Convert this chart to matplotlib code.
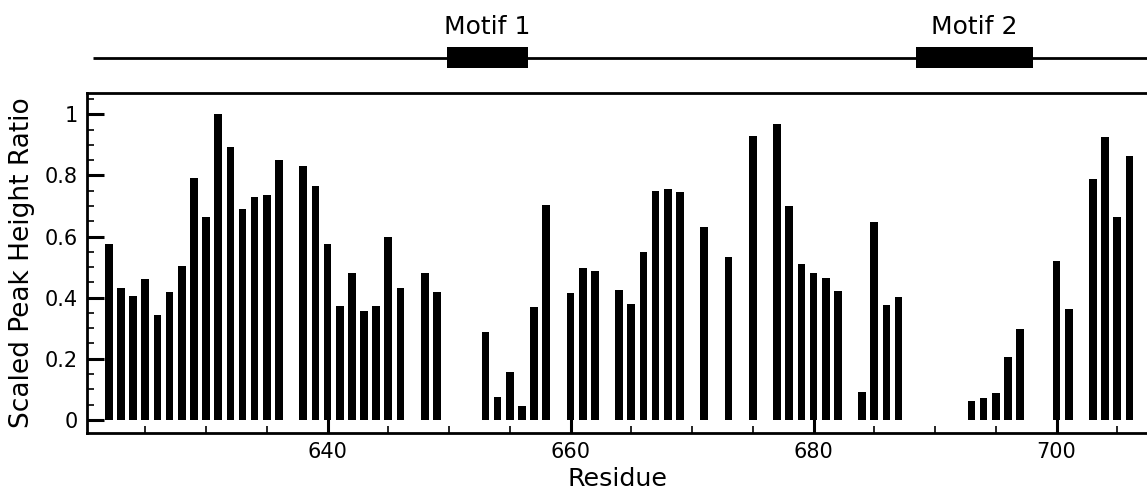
import matplotlib
matplotlib.use("Agg")
import matplotlib.pyplot as plt
from matplotlib.ticker import MultipleLocator
from matplotlib.patches import Rectangle

# residues with a measured peak (gaps are missing residues)
residues = [622, 623, 624, 625, 626, 627, 628, 629, 630, 631, 632, 633, 634, 635, 636,
            638, 639, 640, 641, 642, 643, 644, 645, 646, 648, 649,
            653, 654, 655, 656, 657, 658, 660, 661, 662, 664, 665, 666, 667, 668, 669,
            671, 673, 675, 677, 678, 679, 680, 681, 682, 684, 685, 686, 687,
            693, 694, 695, 696, 697, 700, 701, 703, 704, 705, 706]
ratios = [0.575, 0.432, 0.405, 0.461, 0.342, 0.419, 0.505, 0.793, 0.664, 1.0, 0.893, 0.691, 0.731, 0.737, 0.850,
          0.830, 0.767, 0.575, 0.373, 0.482, 0.358, 0.373, 0.600, 0.432, 0.480, 0.419,
          0.288, 0.076, 0.156, 0.046, 0.370, 0.703, 0.415, 0.496, 0.487, 0.425, 0.378, 0.550, 0.749, 0.755, 0.746,
          0.630, 0.533, 0.929, 0.969, 0.699, 0.510, 0.481, 0.463, 0.421, 0.092, 0.648, 0.376, 0.402,
          0.063, 0.073, 0.088, 0.206, 0.296, 0.520, 0.364, 0.788, 0.927, 0.665, 0.864]

# motif boxes on the track above (start, end residue)
motif_names = ["Motif 1", "Motif 2"]
motif_spans = [(649.8, 656.5), (688.4, 698.1)]

W, H = 1147, 491
fig = plt.figure(figsize=(W / 100, H / 100), dpi=100)

x0, x1 = 620.2, 707.6
left_px, right_px = 87, 87 + (x1 - x0) * 12.15
ax = fig.add_axes([left_px / W, (H - 432.7) / H, (right_px - left_px) / W, (432.7 - 93) / H])

ax.bar(residues, ratios, width=0.63, color="black", linewidth=0)
ax.set_xlim(x0, x1)
ax.set_ylim(-0.042, 1.07)

for s in ax.spines.values():
    s.set_linewidth(2)

ax.xaxis.set_major_locator(MultipleLocator(20))
ax.xaxis.set_minor_locator(MultipleLocator(5))
ax.yaxis.set_major_locator(MultipleLocator(0.2))
ax.yaxis.set_minor_locator(MultipleLocator(0.05))
ax.yaxis.set_major_formatter(plt.FuncFormatter(lambda v, p: "%g" % round(v, 2)))
ax.tick_params(which="major", direction="in", length=12, width=2.2, labelsize=15, pad=6.5)
ax.tick_params(which="minor", direction="in", length=5, width=1.2)
ax.tick_params(axis="y", which="both", right=False)
ax.tick_params(axis="x", which="both", top=False)

ax.set_xlabel("Residue", fontsize=18.3, labelpad=4)
ax.set_ylabel("Scaled Peak Height Ratio", fontsize=19, labelpad=7)

# domain track above the main axes
tr = fig.add_axes([left_px / W, (H - 80) / H, (right_px - left_px) / W, 65 / H])
tr.set_xlim(x0, x1)
tr.set_ylim(0, 65)
tr.axis("off")
tr.plot([620.7, x1], [22, 22], color="black", lw=2, solid_capstyle="butt")
for name, (a, b) in zip(motif_names, motif_spans):
    tr.add_patch(Rectangle((a, 12), b - a, 21, color="black", lw=0, zorder=3))
    tr.text((a + b) / 2, 46, name, ha="center", va="baseline", fontsize=18)

fig.savefig("out.png", dpi=100)
